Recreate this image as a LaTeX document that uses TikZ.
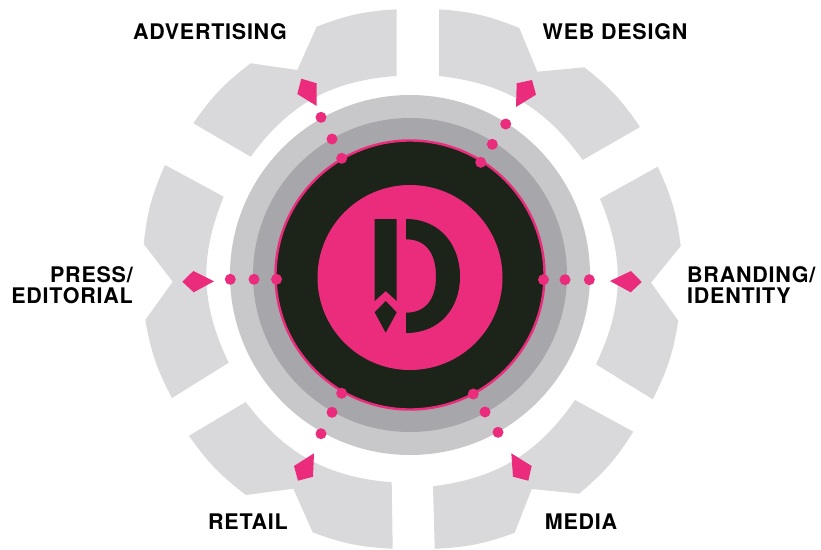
\documentclass[tikz,border=0pt]{standalone}
\usepackage{fontspec}
\setmainfont{TeX Gyre Heros}[LetterSpace=3.5]
\definecolor{petal}{HTML}{D9D9DB}
\definecolor{ringa}{HTML}{C8C8CA}
\definecolor{ringb}{HTML}{A7A6AA}
\definecolor{core}{HTML}{1C241A}
\definecolor{hot}{HTML}{EB2C7C}
\tikzset{
  petalshape/.style={fill=petal,draw=none},
  kite/.style={fill=hot,draw=none},
  dotmark/.style={circle,fill=hot,draw=none,minimum size=11pt,inner sep=0pt},
  lbl/.style={font=\fontsize{21.5}{21}\selectfont\bfseries,text=black,inner sep=0pt,align=center},
  lblr/.style={lbl,align=right,anchor=east},
  lbll/.style={lbl,align=left,anchor=west}
}
\begin{document}
\begin{tikzpicture}[x=1pt,y=-1pt]
\useasboundingbox (0,0) rectangle (821,549);
% petals
\fill[petalshape] (193.3,123.3) to[bend left=9] (250.7,63.3) -- (297.3,70) -- (316.7,26.7) to[bend left=9] (396.7,9.3) -- (396.7,76) to[bend right=25] (250.7,156.7) -- cycle;
\fill[petalshape] (439,9.3) to[bend left=9] (519.3,28) -- (537.3,71.7) -- (584.3,67.3) to[bend left=9] (640,127) -- (582.7,160) to[bend right=24] (439,76) -- cycle;
\fill[petalshape] (657.7,166.7) to[bend left=9] (680.7,246) -- (651,282.7) -- (678.3,320.7) to[bend left=9] (652.7,399.3) -- (596,364.3) to[bend right=24] (600,198.7) -- cycle;
\fill[petalshape] (633.3,431.7) to[bend left=9] (579,493.7) -- (531.7,489) -- (514.7,532.7) to[bend left=9] (434.7,548.7) -- (433,486.3) to[bend right=24] (575,400) -- cycle;
\fill[petalshape] (392.7,548.7) to[bend left=9] (312.7,532.3) -- (293.3,488.7) -- (246,495) to[bend left=9] (189,435.7) -- (245.7,402) to[bend right=24] (391.7,482.3) -- cycle;
\fill[petalshape] (172,398) to[bend left=9] (145.3,320) -- (172.7,281.7) -- (143.7,244) to[bend left=9] (165,165) -- (223.7,196.7) to[bend right=24] (228.7,362.7) -- cycle;
% rings
\fill[ringa] (410,275) circle[radius=180];
\fill[ringb] (410,275) circle[radius=157];
\filldraw[fill=core,draw=hot,line width=2.4pt] (410,275) circle[radius=134.5];
\fill[hot] (410,277.5) circle[radius=92.5];
% logo
\fill[core] (374.7,219) -- (396.7,219) -- (396.7,301) -- (385.7,291) -- (374.7,301) -- cycle;
\fill[core] (385.7,301) -- (396.7,312.3) -- (385.7,332.7) -- (374.7,312.3) -- cycle;
\fill[core] (406,219) .. controls (440,219) and (460,245) .. (460,276.5) .. controls (460,308) and (440,333) .. (406,333) -- (406,312.7) .. controls (425,312.7) and (436,300) .. (436,276.5) .. controls (436,252) and (425,239.3) .. (406,239.3) -- cycle;
% kites
\fill[kite] (301.3,78.7) -- (316.7,83.3) -- (316.7,106) -- (297.3,94) -- cycle;
\fill[kite] (516.7,83.3) -- (532,80) -- (536,94.7) -- (516,107) -- cycle;
\fill[kite] (610,281) -- (631,271) -- (641.7,282) -- (630.7,292.3) -- cycle;
\fill[kite] (511.3,453.3) -- (531.7,466) -- (528.3,480.7) -- (513,476.7) -- cycle;
\fill[kite] (314,453.3) -- (294,466) -- (298,480.7) -- (313,476.7) -- cycle;
\fill[kite] (182.3,281.7) -- (193.3,271) -- (214,281.3) -- (193.7,292.3) -- cycle;
% dots
\node[dotmark] (a1) at (321,117.3) {};
\node[dotmark] (a2) at (332,139) {};
\node[dotmark] (a3) at (341.7,158.3) {};
\node[dotmark] (w1) at (505.7,124) {};
\node[dotmark] (w2) at (492.3,144.3) {};
\node[dotmark] (w3) at (480.7,162.3) {};
\node[dotmark] (b1) at (589.3,279.7) {};
\node[dotmark] (b2) at (565,279.7) {};
\node[dotmark] (b3) at (543.5,279.7) {};
\node[dotmark] (m1) at (498,432.3) {};
\node[dotmark] (m2) at (485,412) {};
\node[dotmark] (m3) at (473.3,394) {};
\node[dotmark] (r1) at (321,433.7) {};
\node[dotmark] (r2) at (332,412.3) {};
\node[dotmark] (r3) at (341.7,393.3) {};
\node[dotmark] (p1) at (230.3,279.3) {};
\node[dotmark] (p2) at (254,279.3) {};
\node[dotmark] (p3) at (276.5,279.3) {};
% labels
\node[lbl] (tadv) at (210,32) {ADVERTISING};
\node[lbl] (tweb) at (615,32) {WEB DESIGN};
\node[lblr] (tpress) at (133,285) {PRESS/\\EDITORIAL};
\node[lbll] (tbrand) at (687,285) {BRANDING/\\IDENTITY};
\node[lbl] (tret) at (248,522) {RETAIL};
\node[lbl] (tmed) at (581,522) {MEDIA};
\end{tikzpicture}
\end{document}
